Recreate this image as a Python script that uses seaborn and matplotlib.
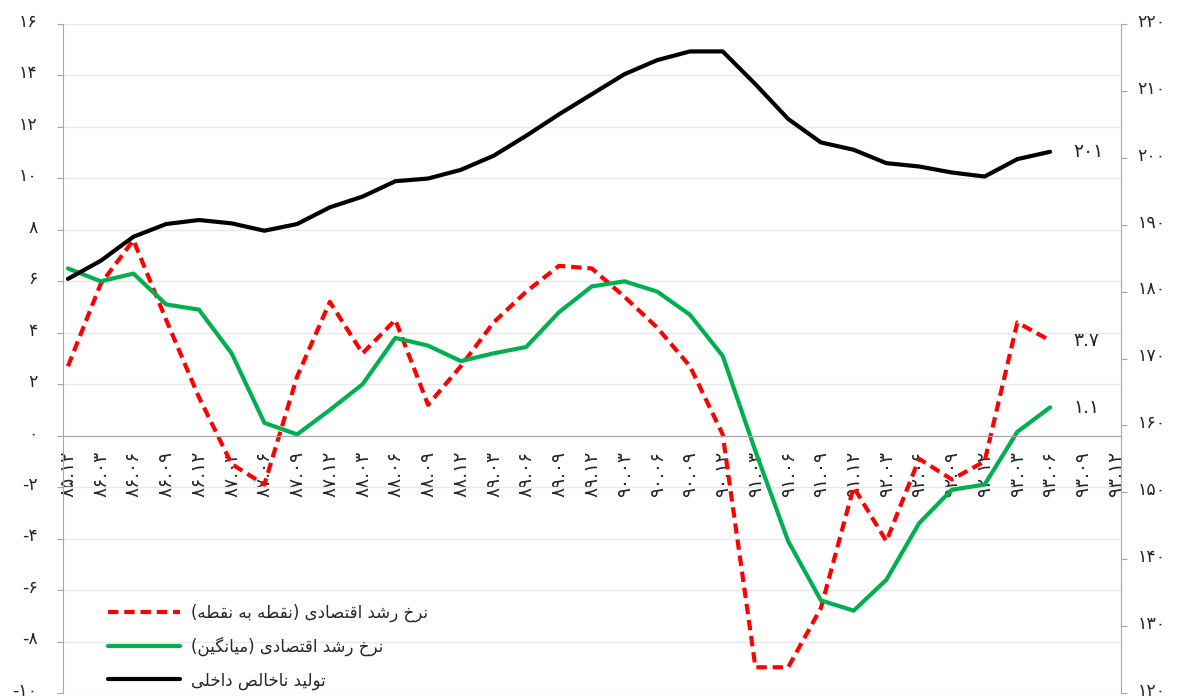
import numpy as np
import seaborn as sns
import matplotlib.pyplot as plt
from matplotlib.ticker import FixedLocator, FuncFormatter
from matplotlib.transforms import ScaledTranslation

# quarters (month-end labels, Persian calendar)
quarters = ['85.12', '86.03', '86.06', '86.09', '86.12', '87.03', '87.06', '87.09',
            '87.12', '88.03', '88.06', '88.09', '88.12', '89.03', '89.06', '89.09',
            '89.12', '90.03', '90.06', '90.09', '90.12', '91.03', '91.06', '91.09',
            '91.12', '92.03', '92.06', '92.09', '92.12', '93.03', '93.06', '93.09',
            '93.12']

# growth rate, point to point (%)
growth_p2p = [2.7, 5.9, 7.6, 4.5, 1.5, -1.1, -1.9, 2.3, 5.2, 3.2, 4.5, 1.2,
              2.7, 4.4, 5.6, 6.6, 6.5, 5.4, 4.2, 2.7, 0.05, -9.0, -9.0, -6.7,
              -2.0, -4.1, -0.9, -1.7, -1.0, 4.4, 3.7]
# growth rate, average (%)
growth_avg = [6.5, 6.0, 6.3, 5.1, 4.9, 3.2, 0.5, 0.05, 1.0, 2.0, 3.8, 3.5,
              2.9, 3.2, 3.45, 4.8, 5.8, 6.0, 5.6, 4.7, 3.1, -0.6, -4.1, -6.4,
              -6.8, -5.6, -3.4, -2.1, -1.9, 0.15, 1.1]
# GDP (right axis)
gdp = [181.9, 184.6, 188.2, 190.1, 190.7, 190.2, 189.1, 190.1, 192.6, 194.2,
       196.5, 196.9, 198.2, 200.3, 203.3, 206.5, 209.5, 212.5, 214.6, 215.9,
       215.9, 211.0, 205.8, 202.3, 201.2, 199.2, 198.7, 197.8, 197.2, 199.8,
       200.9]

label_p2p = 'نرخ رشد اقتصادی (نقطه به نقطه)'
label_avg = 'نرخ رشد اقتصادی (میانگین)'
label_gdp = 'تولید ناخالص داخلی'

FA_DIGITS = str.maketrans('0123456789', '۰۱۲۳۴۵۶۷۸۹')

# contextual forms: isolated, final, initial, medial
DUAL = {
    'ب': '\uFE8F\uFE90\uFE91\uFE92', 'ت': '\uFE95\uFE96\uFE97\uFE98',
    'خ': '\uFEA5\uFEA6\uFEA7\uFEA8', 'ش': '\uFEB5\uFEB6\uFEB7\uFEB8',
    'ص': '\uFEB9\uFEBA\uFEBB\uFEBC', 'ط': '\uFEC1\uFEC2\uFEC3\uFEC4',
    'ق': '\uFED5\uFED6\uFED7\uFED8', 'ل': '\uFEDD\uFEDE\uFEDF\uFEE0',
    'م': '\uFEE1\uFEE2\uFEE3\uFEE4', 'ن': '\uFEE5\uFEE6\uFEE7\uFEE8',
    'ه': '\uFEE9\uFEEA\uFEEB\uFEEC', 'ی': '\uFBFC\uFBFD\uFBFE\uFBFF',
    'گ': '\uFB92\uFB93\uFB94\uFB95',
}
RIGHT_ONLY = {'ا': '\uFE8D\uFE8E', 'د': '\uFEA9\uFEAA',
              'ر': '\uFEAD\uFEAE', 'و': '\uFEED\uFEEE'}


def fa(s):
    '''shape persian text and put it in visual (left to right) order'''
    out = []
    for i, ch in enumerate(s):
        prev = s[i - 1] if i > 0 else ''
        nxt = s[i + 1] if i + 1 < len(s) else ''
        jp = prev in DUAL and (ch in DUAL or ch in RIGHT_ONLY)
        if ch in DUAL:
            jn = nxt in DUAL or nxt in RIGHT_ONLY
            iso, fin, ini, med = DUAL[ch]
            out.append(med if (jp and jn) else ini if jn else fin if jp else iso)
        elif ch in RIGHT_ONLY:
            iso, fin = RIGHT_ONLY[ch]
            out.append(fin if jp else iso)
        else:
            out.append({'(': ')', ')': '('}.get(ch, ch))
    return ''.join(reversed(out))


sns.set_style('white')
plt.rcParams['font.family'] = ['DejaVu Sans']

fig = plt.figure(figsize=(11.84, 7), dpi=100)
ax = fig.add_axes([62.5 / 1184, 7 / 700, 1058.5 / 1184, 669 / 700])
ax2 = ax.twinx()

xq = np.arange(len(growth_p2p)) * 3  # monthly category axis, quarterly points

sns.lineplot(x=xq, y=growth_p2p, ax=ax, color='#FF0000', linewidth=3,
             linestyle=(0, (2.5, 1.4)), label=fa(label_p2p), legend=False)
sns.lineplot(x=xq, y=growth_avg, ax=ax, color='#00B050', linewidth=3,
             label=fa(label_avg), legend=False)
sns.lineplot(x=xq, y=gdp, ax=ax2, color='black', linewidth=3,
             label=fa(label_gdp), legend=False)

ax.set_xlim(-0.5, 96.5)
ax.set_ylim(-10, 16)
ax2.set_ylim(120, 220)

ax.set_yticks(np.arange(-10, 17, 2))
ax.yaxis.set_major_formatter(FuncFormatter(lambda v, p: str(int(v)).translate(FA_DIGITS)))
ax2.set_yticks(np.arange(120, 221, 10))
ax2.yaxis.set_major_formatter(FuncFormatter(lambda v, p: str(int(v)).translate(FA_DIGITS)))

ax.set_xticks(np.arange(len(quarters)) * 3)
ax.set_xticklabels([q.translate(FA_DIGITS) for q in quarters])
ax.xaxis.set_minor_locator(FixedLocator(np.arange(-0.5, 97, 1)))
ax.tick_params(axis='x', which='major', length=0, pad=11, labelrotation=90,
               labelsize=13.5)
ax.tick_params(axis='x', which='minor', length=6, width=1, color='#A6A6A6',
               direction='out')
ax.tick_params(axis='y', length=4, color='#A6A6A6', labelsize=12.5, pad=14)
ax2.tick_params(axis='y', length=4, color='#A6A6A6', labelsize=12.5, pad=8)

# y labels sit a little above their ticks, as in the original
shift = ScaledTranslation(0, 3 / 72, fig.dpi_scale_trans)
for lab in ax.get_yticklabels() + ax2.get_yticklabels():
    lab.set_transform(lab.get_transform() + shift)

ax.grid(axis='y', color='#E9E9E9', linewidth=1)
ax.set_axisbelow(True)
ax.spines['bottom'].set_position(('data', 0))
for sp in ['bottom', 'left']:
    ax.spines[sp].set_color('#A6A6A6')
ax.spines['top'].set_visible(False)
ax.spines['right'].set_visible(False)
for sp in ['top', 'bottom', 'left']:
    ax2.spines[sp].set_visible(False)
ax2.spines['right'].set_color('#A6A6A6')
ax.set_xlabel('')
ax.set_ylabel('')
ax2.set_ylabel('')

# end labels
ax.annotate('3.7'.translate(FA_DIGITS), xy=(xq[-1], growth_p2p[-1]),
            xytext=(17, 0), textcoords='offset points', ha='left',
            va='center', fontsize=13.5)
ax.annotate('1.1'.translate(FA_DIGITS), xy=(xq[-1], growth_avg[-1]),
            xytext=(17, 0), textcoords='offset points', ha='left',
            va='center', fontsize=13.5)
ax2.annotate('201'.translate(FA_DIGITS), xy=(xq[-1], gdp[-1]),
             xytext=(17, 0), textcoords='offset points', ha='left',
             va='center', fontsize=13.5)

handles = ax.get_lines()[:2] + ax2.get_lines()[:1]
ax2.legend(handles=handles, labels=[h.get_label() for h in handles],
           loc='lower left', bbox_to_anchor=(0.043, 0.005), frameon=False,
           fontsize=12, handlelength=4.3, handletextpad=0.7, borderpad=0,
           borderaxespad=0, labelspacing=0.9)

fig.savefig('out.png', dpi=100)
